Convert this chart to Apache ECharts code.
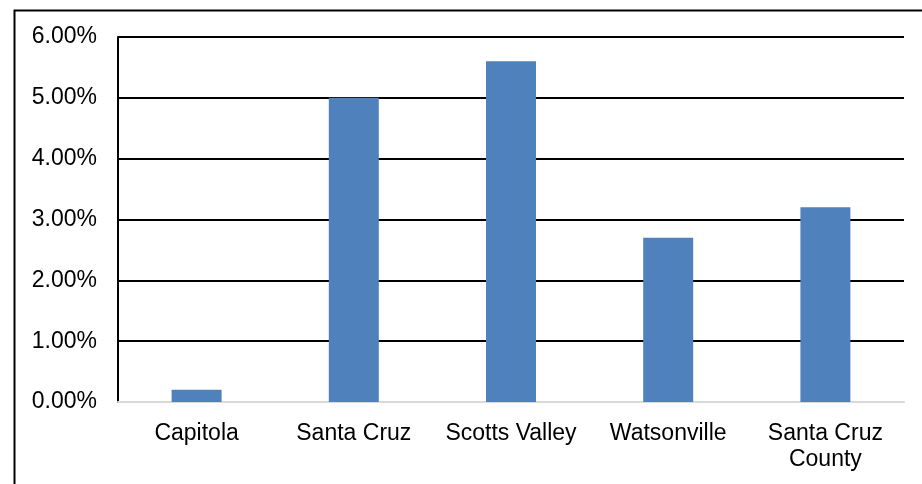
<!DOCTYPE html>
<html><head><meta charset="utf-8">
<script src="https://cdn.jsdelivr.net/npm/echarts@6/dist/echarts.min.js"></script>
<style>html,body{margin:0;padding:0;background:#fff}#c{width:922px;height:484px}</style>
</head><body><div id="c"></div>
<script>
const categories = ['Capitola', 'Santa Cruz', 'Scotts Valley', 'Watsonville', 'Santa Cruz\nCounty'];
const values = [0.2, 5.0, 5.6, 2.7, 3.2];
const chart = echarts.init(document.getElementById('c'), null, {renderer: 'canvas'});
chart.setOption({
  animation: false,
  backgroundColor: '#fff',
  graphic: [{
    type: 'rect', left: 12, top: 8, z: 100, silent: true,
    shape: {x: 0, y: 0, width: 1000, height: 1000},
    style: {fill: 'none', stroke: '#000', lineWidth: 2}
  }],
  grid: {left: 118, right: 18, top: 37, bottom: 82, containLabel: false},
  xAxis: {
    type: 'category', data: categories,
    axisLine: {show: true, lineStyle: {color: '#d9d9d9', width: 2}},
    axisTick: {show: false},
    axisLabel: {color: '#000', fontFamily: 'Liberation Sans, Arial', fontSize: 23, lineHeight: 26, margin: 19, interval: 0}
  },
  yAxis: {
    type: 'value', min: 0, max: 6, interval: 1,
    axisLine: {show: true, lineStyle: {color: '#000', width: 2}},
    axisTick: {show: false},
    splitLine: {show: true, showMinLine: false, lineStyle: {color: '#000', width: 2}},
    axisLabel: {color: '#000', fontFamily: 'Liberation Sans, Arial', fontSize: 23, margin: 21,
      formatter: v => v.toFixed(2) + '%'}
  },
  series: [{
    type: 'bar', data: values, barWidth: 50,
    itemStyle: {color: '#4F81BD'}
  }]
});
</script></body></html>
